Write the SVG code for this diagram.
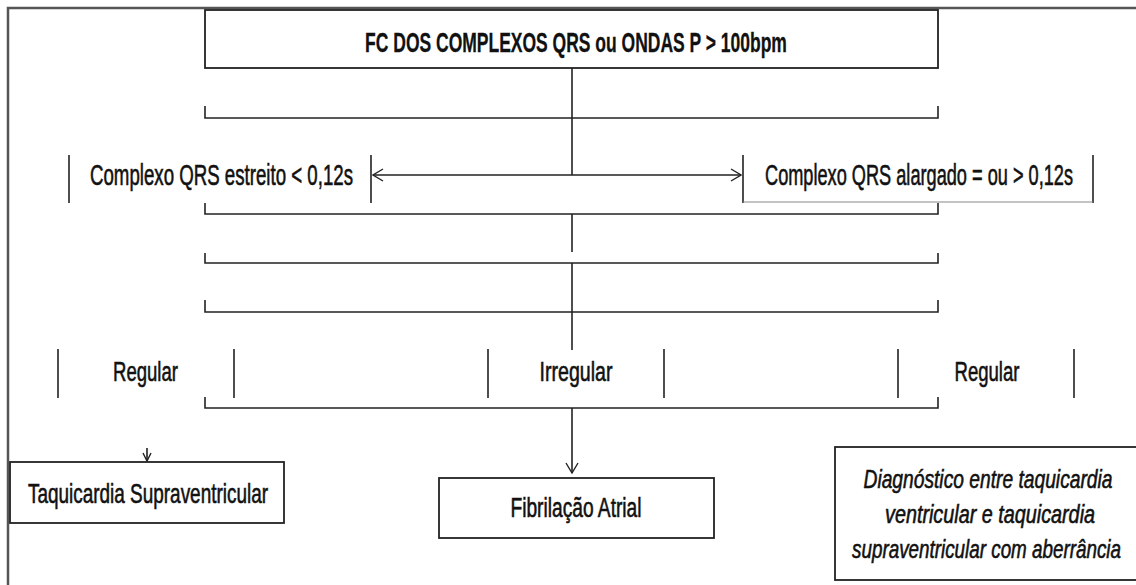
<svg xmlns="http://www.w3.org/2000/svg" width="1136" height="585" viewBox="0 0 1136 585">
<defs>
<marker id="open" viewBox="0 0 12 14" refX="11" refY="7" markerWidth="12" markerHeight="14" markerUnits="userSpaceOnUse" orient="auto-start-reverse">
<path d="M1 1 L11 7 L1 13" fill="none" stroke="#222" stroke-width="1.4"/>
</marker>
<marker id="small" viewBox="0 0 10 10" refX="9" refY="5" markerWidth="10" markerHeight="10" markerUnits="userSpaceOnUse" orient="auto">
<path d="M1 1 L9 5 L1 9" fill="none" stroke="#222" stroke-width="1.4"/>
</marker>
</defs>
<style>
.ln{fill:none;stroke:#222;stroke-width:1.6}
.box{fill:#fff;stroke:#222;stroke-width:1.8}
.t{font-family:"Liberation Sans",Arial,sans-serif;font-size:28px;fill:#111;stroke:#111;stroke-width:0.6;text-anchor:middle}
.b{font-weight:bold;stroke-width:0.3}
.i{font-style:italic;font-size:26px}
.m{font-size:29px}
</style>
<rect x="0" y="0" width="1136" height="585" fill="#fff"/>
<path d="M8 585 V8 H1136" fill="none" stroke="#555" stroke-width="2.5"/>
<g id="connectors">
<path class="ln" d="M205 106 V118 H938 V106"/>
<path class="ln" d="M205 203 V214 H938 V203"/>
<path class="ln" d="M205 253 V263 H938 V253"/>
<path class="ln" d="M205 300 V312 H938 V300"/>
<path class="ln" d="M205 397 V408 H938 V397"/>
<path class="ln" d="M572 68 V175"/>
<path class="ln" d="M572 214 V252"/>
<path class="ln" d="M572 263 V350"/>
<path class="ln" d="M572 175 H373" marker-end="url(#open)"/>
<path class="ln" d="M572 175 H741" marker-end="url(#open)"/>
<path class="ln" d="M572 408 V473" marker-end="url(#open)"/>
<path class="ln" d="M147 448 V461" marker-end="url(#small)"/>
</g>
<g id="title">
<rect class="box" x="205" y="10" width="733" height="58"/>
<text class="t b" transform="translate(576 52) scale(0.624 1)" textLength="676" lengthAdjust="spacingAndGlyphs">FC DOS COMPLEXOS QRS ou ONDAS P &gt; 100bpm</text>
</g>
<g id="narrow">
<path class="ln" d="M69 155 V203 M371 155 V203"/>
<text class="t m" transform="translate(221.5 185) scale(0.644 1)" textLength="408.4" lengthAdjust="spacingAndGlyphs">Complexo QRS estreito &lt; 0,12s</text>
</g>
<g id="wide">
<path class="ln" d="M743 155 V203 M1093 155 V203"/>
<path d="M743 202 H1093" fill="none" stroke="#888" stroke-width="1.2"/>
<text class="t m" transform="translate(919 185) scale(0.627 1)" textLength="491.2" lengthAdjust="spacingAndGlyphs">Complexo QRS alargado = ou &gt; 0,12s</text>
</g>
<g id="regular-left">
<path class="ln" d="M58 349 V398 M234 349 V398"/>
<text class="t" transform="translate(145.5 381) scale(0.663 1)" textLength="98" lengthAdjust="spacingAndGlyphs">Regular</text>
</g>
<g id="irregular">
<path class="ln" d="M488 349 V398 M664 349 V398"/>
<text class="t" transform="translate(576 381) scale(0.70 1)" textLength="104.3" lengthAdjust="spacingAndGlyphs">Irregular</text>
</g>
<g id="regular-right">
<path class="ln" d="M898 349 V398 M1074 349 V398"/>
<text class="t" transform="translate(987 381) scale(0.663 1)" textLength="98" lengthAdjust="spacingAndGlyphs">Regular</text>
</g>
<g id="tsv">
<rect class="box" x="10" y="462" width="274" height="61"/>
<text class="t" transform="translate(148 503) scale(0.645 1)" textLength="372" lengthAdjust="spacingAndGlyphs">Taquicardia Supraventricular</text>
</g>
<g id="fa">
<rect class="box" x="439" y="478" width="275" height="60"/>
<text class="t" transform="translate(576 517) scale(0.679 1)" textLength="193" lengthAdjust="spacingAndGlyphs">Fibrilação Atrial</text>
</g>
<g id="diag">
<rect class="box" x="835" y="447" width="310" height="133"/>
<text class="t i" transform="translate(988 488) scale(0.74 1)" textLength="336.5" lengthAdjust="spacingAndGlyphs">Diagnóstico entre taquicardia</text>
<text class="t i" transform="translate(990 523) scale(0.761 1)" textLength="276" lengthAdjust="spacingAndGlyphs">ventricular e taquicardia</text>
<text class="t i" transform="translate(986.5 558) scale(0.724 1)" textLength="371.5" lengthAdjust="spacingAndGlyphs">supraventricular com aberrância</text>
</g>
</svg>
